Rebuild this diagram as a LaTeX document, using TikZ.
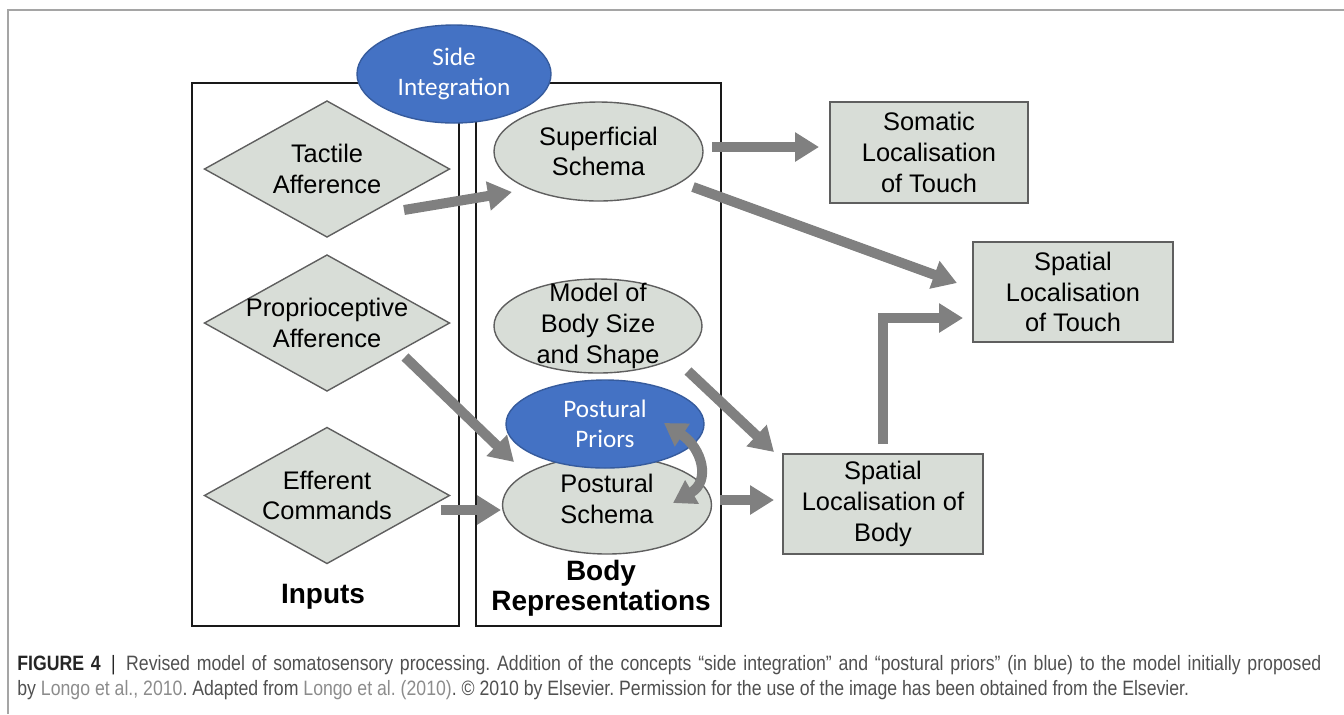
\documentclass[tikz,border=0pt]{standalone}
\usepackage{fontspec}
\setmainfont{Liberation Sans}
\newfontfamily\calfont{Carlito}
\newfontfamily\capfont[FakeStretch=0.85]{Liberation Sans}
\usetikzlibrary{arrows.meta}
\usetikzlibrary{calc}
\usetikzlibrary{positioning}
\usetikzlibrary{shapes.geometric}

\definecolor{boxfill}{RGB}{216,221,215}
\definecolor{edgegray}{RGB}{95,95,95}
\definecolor{sideblue}{RGB}{68,114,196}
\definecolor{flowgray}{RGB}{128,128,128}
\definecolor{framegray}{RGB}{165,165,165}
\definecolor{captext}{RGB}{80,80,80}
\definecolor{caplink}{RGB}{140,140,140}

\begin{document}
\begin{tikzpicture}[
    x=0.5pt, y=-0.5pt,
    lbl/.style={align=center, inner sep=0pt, font=\fontsize{12.7}{15.4}\selectfont},
    bluelbl/.style={align=center, inner sep=0pt, text=white,
      font=\calfont\fontsize{12.6}{14.8}\selectfont},
    shapetxt/.style={label={[lbl]center:{#1}}},
    bluetxt/.style={label={[bluelbl]center:{#1}}},
    inputshape/.style={diamond, draw=edgegray, fill=boxfill, line width=0.7pt,
      minimum width=122.5pt, minimum height=68pt, inner sep=0pt, outer sep=0pt},
    bodyshape/.style={ellipse, draw=edgegray, fill=boxfill, line width=0.7pt,
      inner sep=0pt, outer sep=0pt},
    addshape/.style={ellipse, draw=sideblue!80!black, fill=sideblue, line width=0.7pt,
      inner sep=0pt, outer sep=0pt},
    outbox/.style={rectangle, draw=edgegray, fill=boxfill, line width=0.9pt,
      minimum width=100pt, minimum height=50pt, inner sep=0pt, outer sep=0pt, lbl},
    colframe/.style={draw=black!90, line width=1.3pt},
    coltitle/.style={align=center, inner sep=0pt, font=\bfseries\fontsize{14}{15}\selectfont},
    flow/.style={draw=flowgray, line width=5pt, line join=miter,
      -{Triangle[length=12pt, width=14pt]}},
    captxt/.style={anchor=base west, inner sep=0pt, text=captext,
      font=\capfont\fontsize{10.4}{12}\selectfont\frenchspacing}
  ]

  % page frame
  \useasboundingbox (0,0) rectangle (1344,714);
  \draw [framegray, line width=1pt] (8,714) -- (8,10) -- (1344,10);

  % the two columns
  \draw [colframe] (192,83) rectangle (459,626);
  \draw [colframe] (476,83) rectangle (721,626);
  \node [coltitle, anchor=base] (inputs) at (323,603) {Inputs};
  \node [coltitle] (bodyrep) at (601,588) {Body\\Representations};

  % inputs
  \foreach \name/\ypos/\txt in {tactile/169/{Tactile\\Afference},
      propr/323/{Proprioceptive\\Afference}, efferent/495.5/{Efferent\\Commands}}
    \node [inputshape, shapetxt=\txt] (\name) at (327,\ypos) {};

  % body representations
  \node [bodyshape, minimum width=104.5pt, minimum height=49.5pt,
    shapetxt={Superficial\\Schema}] (superficial) at (598.5,151.5) {};
  \node [bodyshape, minimum width=104pt, minimum height=47pt,
    shapetxt={Model of\\Body Size\\and Shape}] (model) at (598,326) {};
  \node [bodyshape, minimum width=104.5pt, minimum height=49pt,
    label={[lbl, yshift=3pt]center:{Postural\\Schema}}] (postural) at (607,505) {};
  \node [addshape, minimum width=99pt, minimum height=44pt,
    bluetxt={Postural\\Priors}] (priors) at (605,424) {};
  \node [addshape, minimum width=97pt, minimum height=49pt,
    bluetxt={Side\\Integration}] (side) at (454,74) {};

  % outputs
  \node [outbox, minimum width=99pt, minimum height=50.5pt] (somatic) at (929,152.5)
    {Somatic\\Localisation\\of Touch};
  \node [outbox] (spattouch) at (1073,292) {Spatial\\Localisation\\of Touch};
  \node [outbox] (spatbody) at (883,504) {Spatial\\Localisation of\\Body};

  % connectors
  \draw [flow] ($(tactile.east)+(-45.5,41)$) -- ($(superficial.west)+(18,40.5)$);
  \draw [flow] ($(superficial.east)+(9,-4.5)$) -- ($(somatic.west)+(-11,-5.5)$);
  \draw [flow] ($(superficial.east)+(-10,35.5)$) -- ($(spattouch.west)+(-16,-9)$);
  \draw [flow] ($(propr.east)+(-44.5,34)$) -- ($(postural.west)+(11.5,-43)$);
  \draw [flow] ($(efferent.east)+(-8.5,14.5)$) -- ($(postural.west)+(-1.5,5)$);
  \draw [flow] ($(model.east)+(-14,45)$) -- ($(spatbody.north west)+(-9,-2)$);
  \draw [flow] ($(postural.east)+(8.5,-5)$) -- ($(spatbody.west)+(-9,-4)$);
  \draw [flow] ($(spatbody.north)+(0,-10)$) |- ($(spattouch.west)+(-10,26)$);
  \draw [flow, {Triangle[length=11pt, width=13pt]}-{Triangle[length=11pt, width=13pt]}]
    ($(priors.east)+(-40,-1)$) .. controls +(38,25) and +(38,-22) .. ($(postural.east)+(-38.5,-2)$);

  % caption
  \node [captxt] (capline1) at (17,670) {\makebox[652pt][s]{{\bfseries\color{black!85}FIGURE 4}\enspace{\color{black!85}|}\enspace Revised model of somatosensory processing. Addition of the concepts “side integration” and “postural priors” (in blue) to the model initially proposed}};
  \node [captxt] (capline2) at (17,695) {by {\color{caplink}Longo et al., 2010}. Adapted from {\color{caplink}Longo et al. (2010)}. © 2010 by Elsevier. Permission for the use of the image has been obtained from the Elsevier.};
\end{tikzpicture}
\end{document}
